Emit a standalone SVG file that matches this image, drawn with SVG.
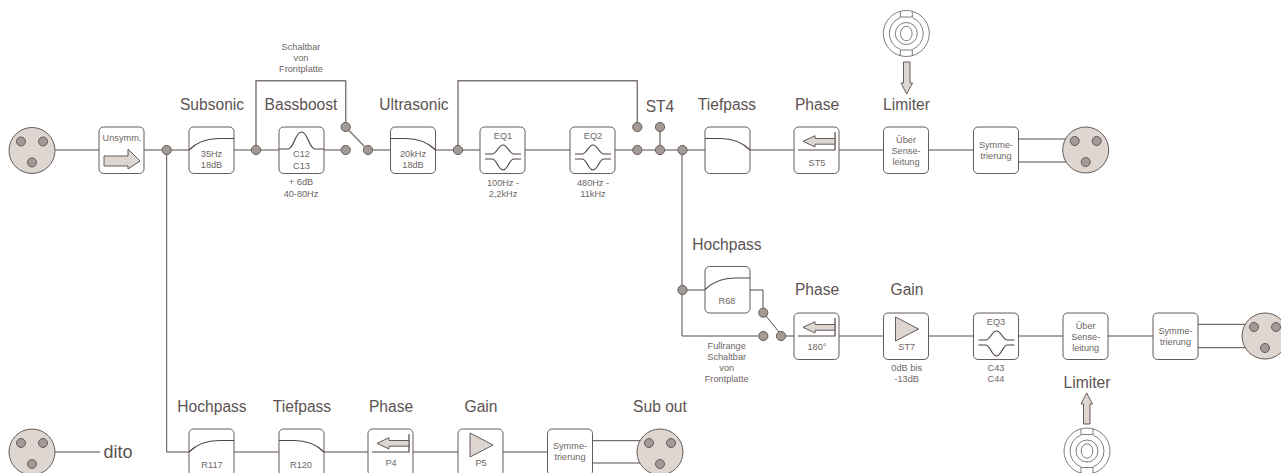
<svg xmlns="http://www.w3.org/2000/svg" xmlns:xlink="http://www.w3.org/1999/xlink" width="1281" height="473" viewBox="0 0 1281 473">
<style>
text{font-family:"Liberation Sans",Arial,sans-serif;fill:#6e6664;text-anchor:middle}
.h{font-size:15.6px;fill:#5c5351}
.s{font-size:9.2px}
.box{fill:#fff;stroke:#655b58;stroke-width:1}
.ln{fill:none;stroke:#564c4a;stroke-width:1}
.gl{fill:none;stroke:#7f7571;stroke-width:1.4}
.cv{fill:none;stroke:#4f4543;stroke-width:1.2}
.nd{fill:#a39a95;stroke:#655b58;stroke-width:1}
.bd{fill:#ddd6d1;stroke:#655b58;stroke-width:1}
.nl{fill:none;stroke:#655b58;stroke-width:.8}
</style>
<defs>
<rect id="b" class="box" x="0" y="0" width="45" height="46.5" rx="4.5"/>
<circle id="n" class="nd" r="4.6"/>
<g id="xlr"><circle class="bd" r="23"/><circle class="nd" cx="-11" cy="-9" r="4.5"/><circle class="nd" cx="11" cy="-9" r="4.5"/><circle class="nd" cx="0" cy="12" r="4.5"/></g>
<path id="hp" class="cv" d="M0 23C8 15 18 11.5 30 11.5H45"/>
<path id="lp" class="cv" d="M0 11.5H15C28 11.5 38 16 45 23"/>
<g id="eq"><path class="cv" d="M5 27H12C17 27 18 18 23 18S29 27 34 27H41M5 32H12C17 32 18 43 23 43S29 32 34 32H41"/></g>
<g id="ph"><path class="cv" d="M4 23H41V5"/><path class="bd" d="M41 11.500H21V8.700L9 14.300L21 20V17.200H41Z"/></g>
<path id="tri" class="bd" d="M12 4V28L35 16Z"/>
<g id="spk"><circle class="nl" r="23"/><path class="nl" d="M-6 -22.200V-16.500H6V-22.200M-6 22.200V16.500H6V22.200"/><path class="nl" d="M-6 -15.900A17 17 0 0 0 -6 15.900M6 -15.900A17 17 0 0 1 6 15.900"/><circle class="nl" r="11"/><ellipse class="nl" rx="5.800" ry="7.200"/></g>
</defs>
<g id="connectors">
<path class="ln" d="M55 150H99M144 150H189M234 150H279M323 150H341M373 150H390M436 150H480M525 150H570M615 150H794M839 150H883M929 150H974M1018 139H1070M1018 162H1070"/>
<path class="gl" d="M256 150V80.700H345.700V127M458 150V80.700H637.300V127M660 127V150M349 130.500L364.500 146.500"/>
<path class="ln" d="M166.700 150V452H189M234 452H279M324 452H368M413 452H458M503 452H547M592 440.700H645M592 463H645"/>
<path class="ln" d="M55 452H100"/>
<path class="ln" d="M682 150V336H758M682 290H705M750 290H763V312M766 316L779 332M786 336H794M839 336H883M929 336H974M1018 336H1063M1108 336H1153M1198 324.300H1248M1198 347.700H1248"/>
<path class="bd" d="M903.500 62H910V83H912.500L906.700 94L901 83H903.500Z"/>
<path class="bd" d="M1083.500 424H1090V404H1092.500L1086.700 393L1081 404H1083.500Z"/>
</g>
<g id="in-xlr"><use xlink:href="#xlr" x="32" y="150.500"/></g>
<g id="unsymm"><use xlink:href="#b" x="99" y="127"/><text class="s" x="122" y="140.700">Unsymm.</text><path class="bd" d="M104 156H128V149L140 161L128 169V166H104Z" stroke-width="1.300"/></g>
<g id="subsonic"><text class="h" x="212" y="110">Subsonic</text><use xlink:href="#b" x="189" y="127"/><use xlink:href="#hp" x="189" y="127"/><text class="s" x="211.500" y="157">35Hz</text><text class="s" x="211.500" y="168">18dB</text></g>
<g id="bassboost"><text class="h" x="301" y="110">Bassboost</text><use xlink:href="#b" x="279" y="127"/><path class="cv" d="M279 149H288C294 149 295 132 301.500 132S309 149 315 149H324"/><text class="s" x="301.500" y="157">C12</text><text class="s" x="301.500" y="169">C13</text><text class="s" x="301" y="185">+ 6dB</text><text class="s" x="301" y="197">40-80Hz</text></g>
<g id="switch-note"><text class="s" x="301" y="50">Schaltbar</text><text class="s" x="301" y="61">von</text><text class="s" x="301" y="72">Frontplatte</text></g>
<g id="junctions"><use xlink:href="#n" x="166.700" y="150"/><use xlink:href="#n" x="256" y="150"/><use xlink:href="#n" x="345.700" y="127"/><use xlink:href="#n" x="345.700" y="150"/><use xlink:href="#n" x="368" y="150"/><use xlink:href="#n" x="458" y="150"/><use xlink:href="#n" x="637.300" y="127"/><use xlink:href="#n" x="637.300" y="150"/><use xlink:href="#n" x="660" y="127"/><use xlink:href="#n" x="660" y="150"/><use xlink:href="#n" x="682.500" y="150"/><use xlink:href="#n" x="682.500" y="290"/><use xlink:href="#n" x="763.300" y="312.700"/><use xlink:href="#n" x="763.300" y="336"/><use xlink:href="#n" x="781" y="336"/></g>
<g id="ultrasonic"><text class="h" x="414" y="110">Ultrasonic</text><use xlink:href="#b" x="390.500" y="127"/><use xlink:href="#lp" x="390.500" y="127"/><text class="s" x="413" y="157">20kHz</text><text class="s" x="413" y="168">18dB</text></g>
<g id="eq1"><use xlink:href="#b" x="480" y="127"/><use xlink:href="#eq" x="480" y="127"/><text class="s" x="503" y="139">EQ1</text><text class="s" x="503" y="185.700">100Hz -</text><text class="s" x="503" y="197">2,2kHz</text></g>
<g id="eq2"><use xlink:href="#b" x="570" y="127"/><use xlink:href="#eq" x="570" y="127"/><text class="s" x="593" y="139">EQ2</text><text class="s" x="593" y="185.700">480Hz -</text><text class="s" x="593" y="197">11kHz</text></g>
<g id="st4"><text class="h" x="660" y="111.700">ST4</text></g>
<g id="tiefpass"><text class="h" x="727" y="110">Tiefpass</text><use xlink:href="#b" x="705" y="127"/><use xlink:href="#lp" x="705" y="127"/></g>
<g id="phase1"><text class="h" x="817" y="110">Phase</text><use xlink:href="#b" x="794" y="127"/><use xlink:href="#ph" x="794" y="127"/><text class="s" x="817" y="165.700">ST5</text></g>
<g id="limiter1"><text class="h" x="906.500" y="110">Limiter</text><use xlink:href="#spk" x="906.300" y="33.500"/></g>
<g id="sense1"><use xlink:href="#b" x="883.500" y="127"/><text class="s" x="906" y="142.700">Über</text><text class="s" x="906" y="153.700">Sense-</text><text class="s" x="906" y="165">leitung</text></g>
<g id="symm1"><use xlink:href="#b" x="973.500" y="127"/><text class="s" x="996" y="148">Symme-</text><text class="s" x="996" y="159">trierung</text></g>
<g id="out1"><use xlink:href="#xlr" x="1085.700" y="150"/></g>
<g id="hochpass2"><text class="h" x="727" y="250">Hochpass</text><use xlink:href="#b" x="705" y="266.500"/><use xlink:href="#hp" x="705" y="266.500"/><text class="s" x="727" y="304">R68</text></g>
<g id="fullrange"><text class="s" x="726.700" y="348.700">Fullrange</text><text class="s" x="726.700" y="360">Schaltbar</text><text class="s" x="726.700" y="371">von</text><text class="s" x="726.700" y="382">Frontplatte</text></g>
<g id="phase2"><text class="h" x="817" y="295">Phase</text><use xlink:href="#b" x="794" y="313"/><use xlink:href="#ph" x="794" y="313"/><text class="s" x="817" y="350.300">180°</text></g>
<g id="gain2"><text class="h" x="907" y="295">Gain</text><use xlink:href="#b" x="883.500" y="313"/><use xlink:href="#tri" x="883.500" y="313"/><text class="s" x="906.700" y="350.300">ST7</text><text class="s" x="906.700" y="370.700">0dB bis</text><text class="s" x="906.700" y="382">-13dB</text></g>
<g id="eq3"><use xlink:href="#b" x="973.500" y="313"/><use xlink:href="#eq" x="973.500" y="313"/><text class="s" x="996" y="324.700">EQ3</text><text class="s" x="996" y="370.700">C43</text><text class="s" x="996" y="382">C44</text></g>
<g id="sense2"><use xlink:href="#b" x="1063" y="313"/><text class="s" x="1085.700" y="328.700">Über</text><text class="s" x="1085.700" y="339.700">Sense-</text><text class="s" x="1085.700" y="351">leitung</text></g>
<g id="symm2"><use xlink:href="#b" x="1153" y="313"/><text class="s" x="1175.500" y="334">Symme-</text><text class="s" x="1175.500" y="345">trierung</text></g>
<g id="out2"><use xlink:href="#xlr" x="1265" y="336"/></g>
<g id="limiter2"><text class="h" x="1087" y="388">Limiter</text><use xlink:href="#spk" x="1087" y="451"/></g>
<g id="in2-xlr"><use xlink:href="#xlr" x="32" y="452"/><text class="h" x="118" y="457.500" style="font-size:18px">dito</text></g>
<g id="hochpass3"><text class="h" x="212" y="412">Hochpass</text><use xlink:href="#b" x="189" y="429"/><use xlink:href="#hp" x="189" y="429"/><text class="s" x="212" y="467.700">R117</text></g>
<g id="tiefpass3"><text class="h" x="302" y="412">Tiefpass</text><use xlink:href="#b" x="279" y="429"/><use xlink:href="#lp" x="279" y="429"/><text class="s" x="301" y="467.700">R120</text></g>
<g id="phase3"><text class="h" x="391" y="412">Phase</text><use xlink:href="#b" x="368" y="429"/><use xlink:href="#ph" x="368" y="429"/><text class="s" x="391" y="466">P4</text></g>
<g id="gain3"><text class="h" x="481" y="412">Gain</text><use xlink:href="#b" x="458" y="429"/><use xlink:href="#tri" x="458" y="429"/><text class="s" x="481" y="466">P5</text></g>
<g id="symm3"><use xlink:href="#b" x="547.500" y="429"/><text class="s" x="570" y="449">Symme-</text><text class="s" x="570" y="460">trierung</text></g>
<g id="subout"><text class="h" x="660" y="412">Sub out</text><use xlink:href="#xlr" x="660" y="452"/></g>
</svg>
